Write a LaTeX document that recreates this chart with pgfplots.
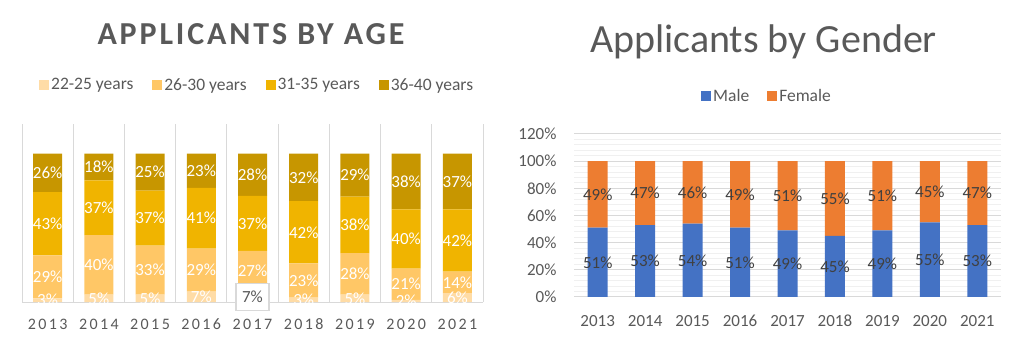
\documentclass[border=0pt]{standalone}
\usepackage{pgfplots}
\pgfplotsset{compat=1.18}
\usepackage{fontspec}
\setmainfont{Carlito}
\newfontfamily\spacedfont[LetterSpace=15]{Carlito}
\newfontfamily\titlefont[LetterSpace=9]{Carlito}
\definecolor{textgray}{HTML}{595959}
\definecolor{labeldark}{HTML}{404040}
\definecolor{ageA}{HTML}{FFDCA6}
\definecolor{ageB}{HTML}{FFC766}
\definecolor{ageC}{HTML}{F0B400}
\definecolor{ageD}{HTML}{C79600}
\definecolor{male}{HTML}{4472C4}
\definecolor{female}{HTML}{ED7D31}
\definecolor{gridc}{HTML}{D9D9D9}
\definecolor{minorc}{HTML}{F0F0F0}
\begin{document}
\begin{tikzpicture}[x=1pt,y=1pt]
\useasboundingbox (0,0) rectangle (1024,345);
% titles
\node[anchor=base, font=\titlefont\bfseries\fontsize{32}{32}\selectfont, text=textgray] at (251,300) {APPLICANTS BY AGE};
\node[anchor=base, font=\fontsize{40}{40}\selectfont, text=textgray] at (763.5,292) {Applicants by Gender};
% ---------- Age chart ----------
\begin{axis}[
  at={(22pt,43pt)}, anchor=south west,
  width=461pt, height=178pt, scale only axis,
  ybar stacked, bar width=29pt,
  xmin=-0.5, xmax=8.5, ymin=0, ymax=120,
  axis y line=none, axis x line=bottom,
  x axis line style={gridc, line width=1pt, -},
  xtick={0,...,8},
  xticklabels={2013,2014,2015,2016,2017,2018,2019,2020,2021},
  major tick length=0pt,
  xticklabel style={font=\spacedfont\fontsize{16}{16}\selectfont, text=textgray, anchor=base, yshift=-27pt},
  extra x ticks={-0.5,0.5,...,8.5},
  extra x tick labels={},
  extra x tick style={grid=major, major grid style={gridc, line width=1pt}},
  /pgf/number format/assume math mode=true,
  clip=false,
  legend columns=4,
  legend style={at={(0.51,1.219)}, anchor=center, draw=none, fill=none,
    font=\fontsize{17.5}{17.5}\selectfont, text=textgray,
    /tikz/every even column/.append style={column sep=17pt}},
  legend image code/.code={\fill[#1] (0pt,-5pt) rectangle (10pt,5pt);},
  point meta=explicit,
  visualization depends on={value \coordindex\as\idx},
  every node near coord/.append style={anchor=center, text=white,
    font=\fontsize{17}{17}\selectfont},
  after end axis/.code={
    \node[draw=gridc, line width=1.2pt, fill=white, text=textgray, font=\fontsize{17}{17}\selectfont,
      minimum width=33pt, minimum height=27pt, inner sep=2pt] at (axis cs:4,3.5) {7\%};
  },
]
\addplot[fill=ageA, draw=none,
  nodes near coords={\ifnum\idx=4 \else\pgfmathprintnumber{\pgfplotspointmeta}\%\fi}]
  coordinates {(0,2.5)[3] (1,5)[5] (2,5)[5] (3,7)[7] (4,7)[7] (5,3)[3] (6,5)[5] (7,1.5)[2] (8,6)[6]};
\addplot[fill=ageB, draw=none, nodes near coords={\pgfmathprintnumber{\pgfplotspointmeta}\%}]
  coordinates {(0,29)[29] (1,40)[40] (2,33)[33] (3,29)[29] (4,27.5)[27] (5,23)[23] (6,28)[28] (7,21)[21] (8,14.5)[14]};
\addplot[fill=ageC, draw=none, nodes near coords={\pgfmathprintnumber{\pgfplotspointmeta}\%}]
  coordinates {(0,42.5)[43] (1,37)[37] (2,37)[37] (3,41)[41] (4,37)[37] (5,42)[42] (6,38)[38] (7,40)[40] (8,42)[42]};
\addplot[fill=ageD, draw=none, nodes near coords={\pgfmathprintnumber{\pgfplotspointmeta}\%}]
  coordinates {(0,26)[26] (1,18)[18] (2,25)[25] (3,23)[23] (4,28.5)[28] (5,32)[32] (6,29)[29] (7,37.5)[38] (8,37.5)[37]};
\legend{22-25 years,26-30 years,31-35 years,36-40 years}
\end{axis}
% ---------- Gender chart ----------
\begin{axis}[
  at={(574pt,48pt)}, anchor=south west,
  width=427pt, height=163pt, scale only axis,
  ybar stacked, bar width=20pt,
  xmin=-0.5, xmax=8.5, ymin=0, ymax=120,
  axis y line=left, axis x line=bottom,
  y axis line style={draw=none},
  x axis line style={gridc, line width=1pt, -},
  xtick={0,...,8},
  xticklabels={2013,2014,2015,2016,2017,2018,2019,2020,2021},
  ytick={0,20,...,120},
  yticklabel={\pgfmathprintnumber{\tick}\%},
  minor y tick num=4,
  major tick length=0pt, minor tick length=0pt,
  ymajorgrids, yminorgrids,
  major grid style={gridc, line width=1pt},
  minor grid style={minorc, line width=1pt},
  xticklabel style={font=\fontsize{17}{17}\selectfont, text=textgray, anchor=base, yshift=-29pt},
  yticklabel style={font=\fontsize{17}{17}\selectfont, text=textgray, anchor=east, xshift=-14pt},
  /pgf/number format/assume math mode=true,
  clip=false,
  legend columns=2,
  legend style={at={(0.452,1.233)}, anchor=center, draw=none, fill=none,
    font=\fontsize{17.5}{17.5}\selectfont, text=textgray,
    /tikz/every even column/.append style={column sep=16pt}},
  legend image code/.code={\fill[#1] (0pt,-5pt) rectangle (10pt,5pt);},
  point meta=rawy,
  nodes near coords={\pgfmathprintnumber{\pgfplotspointmeta}\%},
  every node near coord/.append style={anchor=center, text=labeldark,
    font=\fontsize{17}{17}\selectfont},
]
\addplot[fill=male, draw=none]
  coordinates {(0,51) (1,53) (2,54) (3,51) (4,49) (5,45) (6,49) (7,55) (8,53)};
\addplot[fill=female, draw=none]
  coordinates {(0,49) (1,47) (2,46) (3,49) (4,51) (5,55) (6,51) (7,45) (8,47)};
\legend{Male,Female}
\end{axis}
\end{tikzpicture}
\end{document}
